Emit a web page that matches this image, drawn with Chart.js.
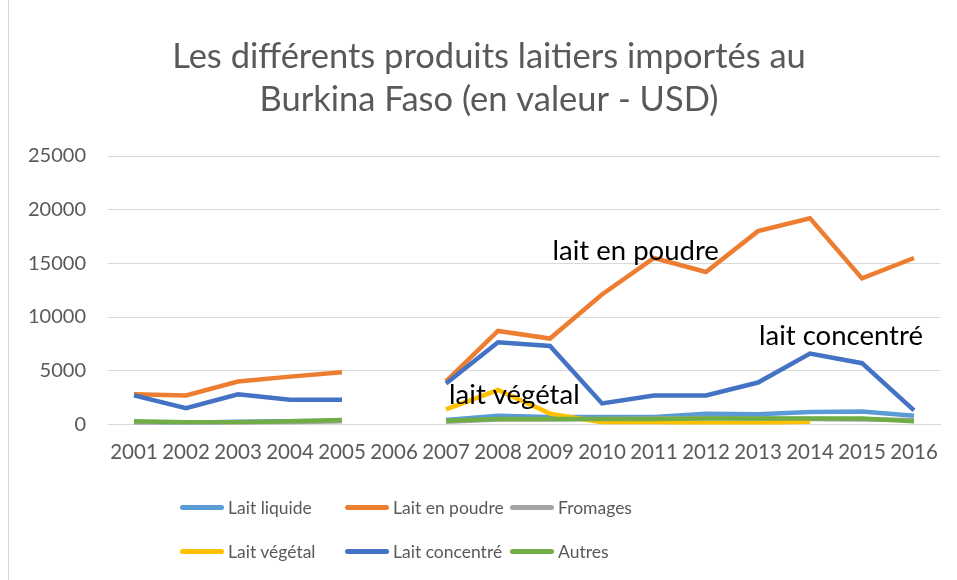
<!DOCTYPE html>
<html lang="fr">
<head>
  <meta charset="UTF-8">
  <title>Produits laitiers importés au Burkina Faso</title>
  <script src="https://cdn.jsdelivr.net/npm/chart.js"></script>
  <style>
    body { margin: 0; background: #fff; font-family: 'Lato', 'Open Sans', sans-serif; }
    .wrap { position: relative; width: 957px; height: 580px; }
    .frame { position: absolute; left: 8px; top: -1px; width: 960px; height: 600px; border: 1px solid #d9d9d9; box-sizing: border-box; pointer-events: none; }
    #legend { position: absolute; left: 0; top: 491px; width: 957px; }
    .item { position: absolute; display: flex; align-items: center; font-size: 17.5px; color: #595959; white-space: nowrap; }
    .item span.swatch { display: inline-block; width: 44px; height: 5px; border-radius: 3px; margin-right: 4px; }
  </style>
</head>
<body>
  <div class="wrap">
    <canvas id="chart" width="957" height="580"></canvas>
    <div class="frame"></div>
    <div id="legend"></div>
  </div>

  <script>
    const years = ['2001', '2002', '2003', '2004', '2005', '2006', '2007', '2008',
                   '2009', '2010', '2011', '2012', '2013', '2014', '2015', '2016'];

    // values (USD), null where nothing is drawn
    const laitLiquide   = [200, 150, 250, 300, 350, null, 400, 800, 700, 700, 700, 1000, 950, 1150, 1200, 800];
    const laitPoudre    = [2800, 2700, 4000, 4450, 4850, null, 4000, 8700, 8000, 12100, 15500, 14200, 18000, 19200, 13600, 15500];
    const fromages      = [150, 100, 150, 200, 300, null, 250, 450, 450, 500, 550, 600, 550, 500, 450, 400];
    const laitVegetal   = [null, null, null, null, null, null, 1400, 3200, 1000, 200, 200, 100, 100, 250, null, null];
    const laitConcentre = [2700, 1500, 2800, 2300, 2300, null, 3800, 7650, 7300, 1950, 2700, 2700, 3900, 6600, 5700, 1300];
    const autres        = [300, 200, 200, 300, 400, null, 350, 500, 500, 500, 500, 550, 550, 550, 550, 300];

    const seriesNames  = ['Lait liquide', 'Lait en poudre', 'Fromages', 'Lait végétal', 'Lait concentré', 'Autres'];
    const seriesData   = [laitLiquide, laitPoudre, fromages, laitVegetal, laitConcentre, autres];
    const seriesColors = ['#5B9BD5', '#ED7D31', '#A5A5A5', '#FFC000', '#4472C4', '#70AD47'];

    const titleLines = ['Les différents produits laitiers importés au', 'Burkina Faso (en valeur - USD)'];

    // text labels on the plot: category position, value, text
    const noteText  = ['lait en poudre', 'lait concentré', 'lait végétal'];
    const noteIndex = [8.05, 12.02, 6.06];
    const noteValue = [16100, 8200, 2700];

    const datasets = seriesNames.map((name, i) => ({
      label: name,
      data: seriesData[i],
      borderColor: seriesColors[i],
      backgroundColor: seriesColors[i],
      borderWidth: 4.5,
      pointRadius: 0,
      tension: 0,
      spanGaps: false,
      order: seriesNames.length - i
    }));

    const notesPlugin = {
      id: 'notes',
      afterDatasetsDraw(chart) {
        const ctx = chart.ctx;
        const xs = chart.scales.x, ys = chart.scales.y;
        ctx.save();
        ctx.font = '27.5px Lato, "Open Sans", sans-serif';
        ctx.fillStyle = '#000';
        ctx.textAlign = 'left';
        ctx.textBaseline = 'middle';
        noteText.forEach((t, i) => {
          ctx.fillText(t, xs.getPixelForValue(noteIndex[i]), ys.getPixelForValue(noteValue[i]));
        });
        ctx.restore();
      }
    };

    // title centred on the framed chart, not on the canvas
    const titlePlugin = {
      id: 'frameTitle',
      afterDraw(chart) {
        const ctx = chart.ctx;
        ctx.save();
        ctx.font = '34.5px Lato, "Open Sans", sans-serif';
        ctx.fillStyle = '#595959';
        ctx.textAlign = 'center';
        ctx.textBaseline = 'middle';
        titleLines.forEach((t, i) => ctx.fillText(t, 489, 57 + i * 43));
        ctx.restore();
      }
    };

    new Chart(document.getElementById('chart'), {
      type: 'line',
      data: { labels: years, datasets },
      options: {
        responsive: false,
        animation: false,
        layout: { padding: { left: 27, right: 17, top: 156, bottom: 99 } },
        plugins: {
          legend: { display: false },
          tooltip: { enabled: false },
          title: { display: false }
        },
        scales: {
          x: {
            offset: true,
            grid: { display: false, drawTicks: false },
            border: { color: '#d9d9d9', width: 1 },
            ticks: { color: '#595959', font: { family: 'Lato, "Open Sans", sans-serif', size: 20.5 }, padding: 16, maxRotation: 0, autoSkip: false }
          },
          y: {
            min: 0,
            max: 25000,
            afterFit(scale) { scale.width = 81; },
            grid: { color: '#d9d9d9', drawTicks: false },
            border: { display: false },
            ticks: {
              stepSize: 5000, color: '#595959', padding: 22,
              font: { family: 'Lato, "Open Sans", sans-serif', size: 20 },
              format: { useGrouping: false }
            }
          }
        }
      },
      plugins: [notesPlugin, titlePlugin]
    });

    // legend laid out as in the reference: two rows of three
    const legendLeft = [180, 345, 510];
    const legendTop  = [6, 50];
    const legend = document.getElementById('legend');
    seriesNames.forEach((name, i) => {
      const el = document.createElement('div');
      el.className = 'item';
      el.style.left = legendLeft[i % 3] + 'px';
      el.style.top = legendTop[Math.floor(i / 3)] + 'px';
      el.innerHTML = '<span class="swatch" style="background:' + seriesColors[i] + '"></span>' + name;
      legend.appendChild(el);
    });
  </script>
</body>
</html>
